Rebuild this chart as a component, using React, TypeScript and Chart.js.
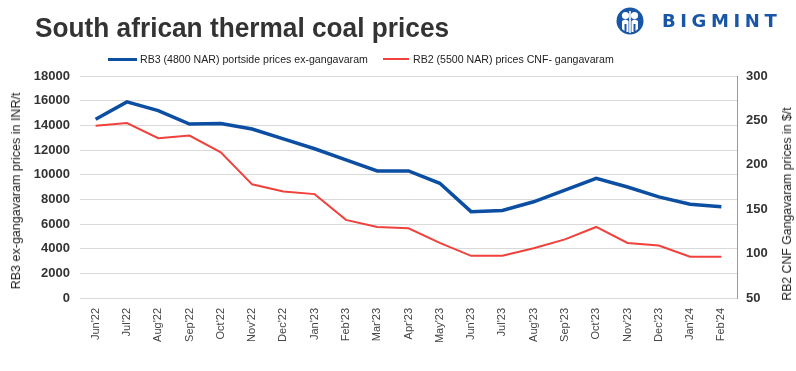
import React, { useEffect, useRef } from "react";
import { Chart, registerables } from "chart.js";

Chart.register(...registerables);

const TITLE = "South african thermal coal prices";
const LEFT_AXIS_TITLE = "RB3 ex-gangavaram prices in INR/t";
const RIGHT_AXIS_TITLE = "RB2 CNF Gangavaram prices in $/t";

const months = [
  "Jun'22", "Jul'22", "Aug'22", "Sep'22", "Oct'22", "Nov'22", "Dec'22",
  "Jan'23", "Feb'23", "Mar'23", "Apr'23", "May'23", "Jun'23", "Jul'23",
  "Aug'23", "Sep'23", "Oct'23", "Nov'23", "Dec'23", "Jan'24", "Feb'24",
];

const rb3Label = "RB3 (4800 NAR) portside prices ex-gangavaram";
const rb3Values = [
  14500, 15900, 15200, 14100, 14150, 13700, 12900, 12100, 11200, 10300, 10300,
  9300, 7000, 7100, 7800, 8750, 9700, 9000, 8200, 7600, 7400,
];

const rb2Label = "RB2 (5500 NAR) prices CNF- gangavaram";
const rb2Values = [
  244, 247, 230, 233, 214, 178, 170, 167, 138, 130, 128.5,
  112, 97.5, 97.5, 106, 116, 130, 112, 109, 96.5, 96.5,
];

const leftMin = 0;
const leftMax = 18000;
const leftStep = 2000;
const rightMin = 50;
const rightMax = 300;
const rightStep = 50;

const BLUE = "#0b4ea2";
const RED = "#f0413c";

export default function App() {
  const canvasRef = useRef<HTMLCanvasElement | null>(null);

  useEffect(() => {
    const canvas = canvasRef.current;
    if (!canvas) return;
    const chart = new Chart(canvas, {
      type: "line",
      data: {
        labels: months,
        datasets: [
          {
            label: rb3Label,
            data: rb3Values,
            borderColor: BLUE,
            backgroundColor: BLUE,
            borderWidth: 3.5,
            pointRadius: 0,
            tension: 0,
            yAxisID: "y",
          },
          {
            label: rb2Label,
            data: rb2Values,
            borderColor: RED,
            backgroundColor: RED,
            borderWidth: 2,
            pointRadius: 0,
            tension: 0,
            yAxisID: "y1",
          },
        ],
      },
      options: {
        responsive: false,
        animation: false,
        devicePixelRatio: 1,
        layout: { padding: { top: 76, left: 0, right: 0, bottom: 0 } },
        plugins: {
          legend: { display: false },
          title: { display: false },
          tooltip: { enabled: false },
        },
        scales: {
          x: {
            offset: true,
            grid: { display: false, drawTicks: false },
            border: { display: false },
            ticks: {
              minRotation: 90,
              maxRotation: 90,
              autoSkip: false,
              padding: 10,
              color: "#444",
              font: { family: "Liberation Sans", size: 11 },
            },
            afterFit: (s: any) => {
              s.height = 73;
            },
          },
          y: {
            position: "left",
            min: leftMin,
            max: leftMax,
            grid: { color: "#d9d9d9", lineWidth: 1, drawTicks: false },
            border: { display: false },
            ticks: {
              stepSize: leftStep,
              padding: 10,
              color: "#333",
              font: { family: "Liberation Sans", size: 13, weight: "bold" },
              callback: (v: any) => String(v),
            },
            afterFit: (s: any) => {
              s.width = 80;
            },
          },
          y1: {
            position: "right",
            min: rightMin,
            max: rightMax,
            grid: { display: false, drawTicks: false },
            border: { display: true, color: "#999", width: 1 },
            ticks: {
              stepSize: rightStep,
              padding: 9,
              color: "#333",
              font: { family: "Liberation Sans", size: 13, weight: "bold" },
              callback: (v: any) => String(v),
            },
            afterFit: (s: any) => {
              s.width = 59;
            },
          },
        },
      },
    });
    return () => chart.destroy();
  }, []);

  const legendText: React.CSSProperties = {
    position: "absolute",
    top: 52,
    fontFamily: "Liberation Sans",
    fontSize: 10.6,
    lineHeight: "14px",
    color: "#222",
    whiteSpace: "nowrap",
  };

  return (
    <div
      style={{
        position: "absolute",
        left: 0,
        top: 0,
        width: 796,
        height: 371,
        background: "#fff",
        overflow: "hidden",
      }}
    >
      <canvas
        ref={canvasRef}
        width={796}
        height={371}
        style={{ position: "absolute", left: 0, top: 0, width: 796, height: 371 }}
      />
      <div
        style={{
          position: "absolute",
          left: 35,
          top: 14,
          fontFamily: "'Liberation Sans', sans-serif",
          fontWeight: "bold",
          fontSize: 28,
          lineHeight: "28px",
          color: "#333",
          whiteSpace: "nowrap",
          transform: "scaleX(0.937)",
          transformOrigin: "0 0",
        }}
      >
        {TITLE}
      </div>
      <svg
        width={28}
        height={28}
        viewBox="0 0 28 28"
        style={{ position: "absolute", left: 616, top: 7 }}
      >
        <circle cx={14} cy={14} r={13.5} fill="#1a56a8" />
        <circle cx={9.5} cy={8.5} r={3.6} fill="#fff" />
        <circle cx={18.5} cy={8.5} r={3.6} fill="#fff" />
        <rect x={13.2} y={4} width={1.6} height={22} fill="#fff" />
        <path d="M6 14 Q9.5 11 12.5 14 L12.5 25 L10.5 25 L10.5 17 L8.5 17 L8.5 24 L6 22 Z" fill="#fff" />
        <path d="M22 14 Q18.5 11 15.5 14 L15.5 25 L17.5 25 L17.5 17 L19.5 17 L19.5 24 L22 22 Z" fill="#fff" />
      </svg>
      <div
        style={{
          position: "absolute",
          left: 662,
          top: 12,
          fontFamily: "'DejaVu Sans', sans-serif",
          fontWeight: "bold",
          fontSize: 18,
          lineHeight: "18px",
          letterSpacing: 4.6,
          color: "#1a56a8",
          whiteSpace: "nowrap",
        }}
      >
        BIGMINT
      </div>
      <div style={{ position: "absolute", left: 108, top: 57.5, width: 29, height: 3, background: BLUE }} />
      <div style={{ ...legendText, left: 140 }}>{rb3Label}</div>
      <div style={{ position: "absolute", left: 383, top: 58, width: 26, height: 2, background: RED }} />
      <div style={{ ...legendText, left: 413 }}>{rb2Label}</div>
      <div
        style={{
          position: "absolute",
          left: 16,
          top: 191,
          transform: "translate(-50%, -50%) rotate(-90deg)",
          fontFamily: "Liberation Sans",
          fontSize: 12.5,
          color: "#222",
          whiteSpace: "nowrap",
        }}
      >
        {LEFT_AXIS_TITLE}
      </div>
      <div
        style={{
          position: "absolute",
          left: 787,
          top: 204,
          transform: "translate(-50%, -50%) rotate(-90deg)",
          fontFamily: "Liberation Sans",
          fontSize: 12.3,
          color: "#222",
          whiteSpace: "nowrap",
        }}
      >
        {RIGHT_AXIS_TITLE}
      </div>
    </div>
  );
}
